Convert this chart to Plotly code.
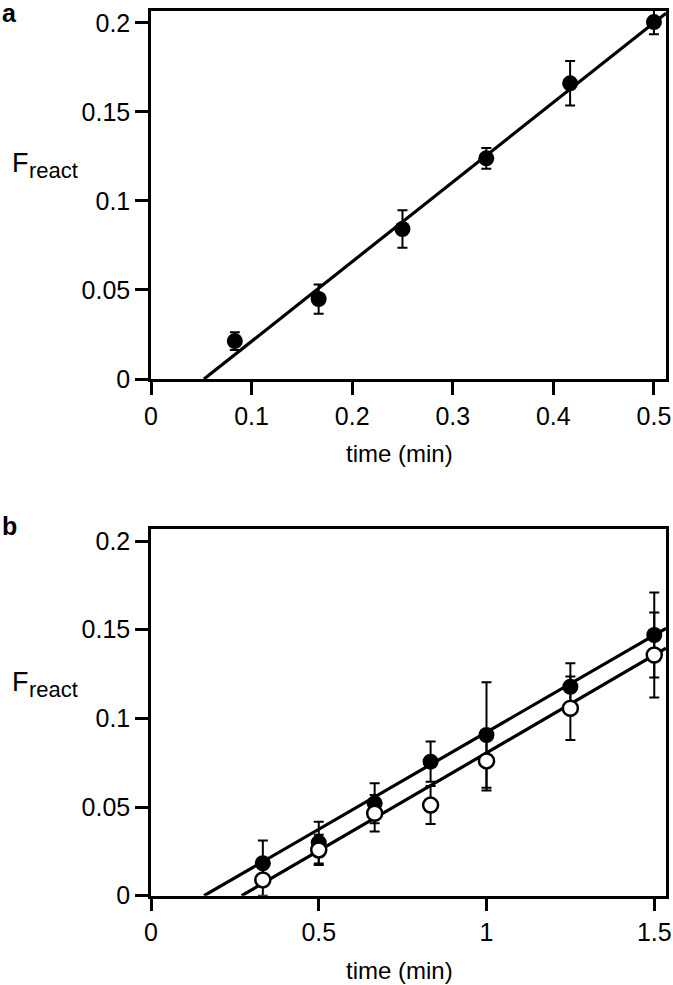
import plotly.graph_objects as go

W, H = 673, 985

# ---------------- data: panel a ----------------
a_time = [1/12, 2/12, 3/12, 4/12, 5/12, 6/12]
a_freact = [0.0213, 0.0449, 0.0842, 0.1239, 0.1660, 0.2004]
a_err = [0.0050, 0.0082, 0.0105, 0.0058, 0.0125, 0.0068]
a_fit_x0 = 0.0527      # x-intercept of fitted line
a_fit_slope = 0.4471
a_xticks = [0, 0.1, 0.2, 0.3, 0.4, 0.5]
a_xticklabels = ["0", "0.1", "0.2", "0.3", "0.4", "0.5"]

# ---------------- data: panel b ----------------
b_time = [1/3, 1/2, 2/3, 5/6, 1.0, 1.25, 1.5]
b_filled = [0.0183, 0.0299, 0.0521, 0.0756, 0.0906, 0.1178, 0.1470]
b_filled_err = [0.0128, 0.0118, 0.0113, 0.0113, 0.0297, 0.0132, 0.0240]
b_open = [0.0089, 0.0258, 0.0465, 0.0511, 0.0760, 0.1057, 0.1357]
b_open_err = [0.0089, 0.0085, 0.0103, 0.0107, 0.0167, 0.0179, 0.0240]
b_filled_fit_x0 = 0.158
b_filled_fit_slope = 0.1095
b_open_fit_x0 = 0.270
b_open_fit_slope = 0.1103
b_xticks = [0, 0.5, 1, 1.5]
b_xticklabels = ["0", "0.5", "1", "1.5"]

yticks = [0, 0.05, 0.1, 0.15, 0.2]
yticklabels = ["0", "0.05", "0.1", "0.15", "0.2"]

a_xrange = [0, 0.512]
b_xrange = [0, 1.535]
yrange = [0, 0.2066]

FONT = "Liberation Sans, Arial, Helvetica, sans-serif"

def px(x):
    return x / W

def py(y):
    return 1 - y / H

fig = go.Figure()

# fitted lines
def fit_line(x0, slope, xmax, xaxis, yaxis):
    xs = [x0, xmax]
    ys = [slope * (x - x0) for x in xs]
    fig.add_trace(go.Scatter(x=xs, y=ys, mode="lines",
                             line=dict(color="black", width=3.2),
                             xaxis=xaxis, yaxis=yaxis, showlegend=False,
                             hoverinfo="skip"))

fit_line(a_fit_x0, a_fit_slope, a_xrange[1], "x", "y")
fit_line(b_filled_fit_x0, b_filled_fit_slope, b_xrange[1], "x2", "y2")
fit_line(b_open_fit_x0, b_open_fit_slope, b_xrange[1], "x2", "y2")

err_style = dict(type="data", visible=True, color="black", thickness=2, width=5)

fig.add_trace(go.Scatter(x=a_time, y=a_freact, mode="markers",
                         marker=dict(color="black", size=16, line=dict(width=0)),
                         error_y=dict(array=a_err, **err_style),
                         xaxis="x", yaxis="y", showlegend=False, cliponaxis=False))

fig.add_trace(go.Scatter(x=b_time, y=b_filled, mode="markers",
                         marker=dict(color="black", size=16, line=dict(width=0)),
                         error_y=dict(array=b_filled_err, **err_style),
                         xaxis="x2", yaxis="y2", showlegend=False, cliponaxis=False))

fig.add_trace(go.Scatter(x=b_time, y=b_open, mode="markers",
                         marker=dict(color="white", size=15, line=dict(width=2.5, color="black")),
                         error_y=dict(array=b_open_err, **err_style),
                         xaxis="x2", yaxis="y2", showlegend=False, cliponaxis=False))

axis_common = dict(showline=True, linewidth=2.5, linecolor="black", mirror=True,
                   ticks="outside", ticklen=13, tickwidth=2.5, tickcolor="black",
                   showgrid=False, zeroline=False, automargin=False,
                   tickfont=dict(family=FONT, size=25, color="black"))

xdom = [151 / W, 666 / W]

fig.update_layout(
    width=W, height=H,
    margin=dict(l=0, r=0, t=0, b=0, autoexpand=False),
    paper_bgcolor="white", plot_bgcolor="white",
    showlegend=False,
    xaxis=dict(domain=xdom, range=a_xrange, tickvals=a_xticks, ticktext=a_xticklabels,
               anchor="y", **axis_common),
    yaxis=dict(domain=[py(379), py(11)], range=yrange, tickvals=yticks, ticktext=yticklabels,
               anchor="x", **axis_common),
    xaxis2=dict(domain=xdom, range=b_xrange, tickvals=b_xticks, ticktext=b_xticklabels,
                anchor="y2", **axis_common),
    yaxis2=dict(domain=[py(895.7), py(529.3)], range=yrange, tickvals=yticks, ticktext=yticklabels,
                anchor="x2", **axis_common),
)

def ann(text, x, y, size, xanchor="left", yanchor="middle", bold=False):
    fig.add_annotation(text=(f"<b>{text}</b>" if bold else text),
                       x=px(x), y=py(y), xref="paper", yref="paper",
                       xanchor=xanchor, yanchor=yanchor, showarrow=False,
                       font=dict(family=FONT, size=size, color="black"))

# panel letters
ann("a", 0, 13, 25, bold=True)
ann("b", 0, 526, 25, bold=True)

# y-axis labels (F with subscript react)
for off in (0, 518.5):
    ann("F", 10, 163 + off, 27)
    ann("react", 26.5, 170.5 + off, 22)

# x-axis titles
ann("time (min)", 399.5, 453, 24, xanchor="center")
ann("time (min)", 399.5, 970, 24, xanchor="center")

fig.write_html("out.html",
               config={"displayModeBar": False},
               post_script="document.body.style.margin='0';document.body.style.padding='0';")
